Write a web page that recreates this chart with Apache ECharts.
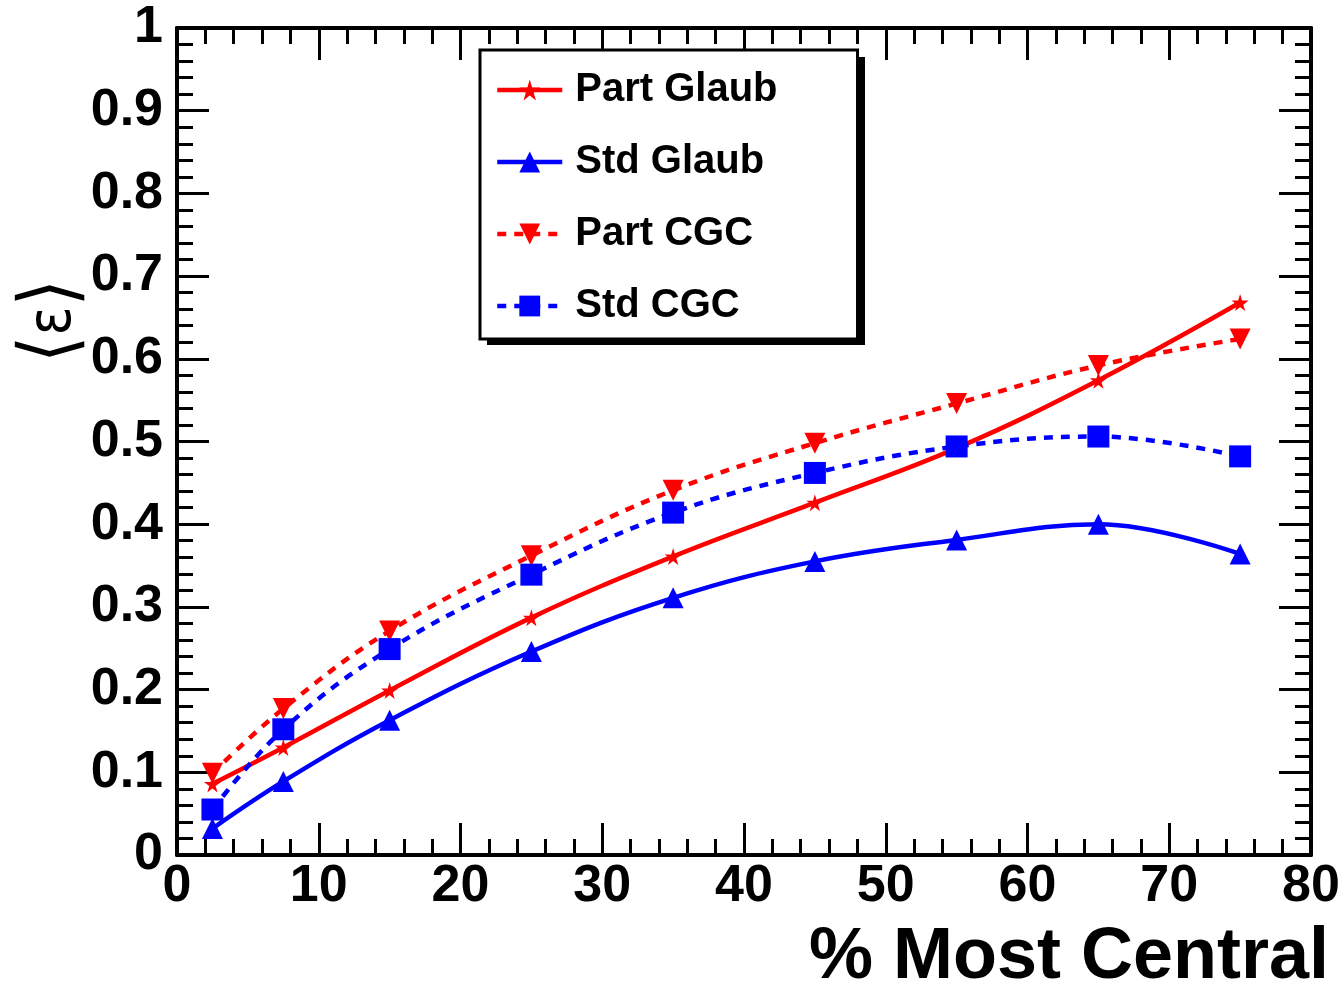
<!DOCTYPE html>
<html>
<head>
<meta charset="utf-8">
<script src="https://cdn.jsdelivr.net/npm/echarts@6/dist/echarts.min.js"></script>
<style>
    html, body { margin: 0; padding: 0; background: #fff; }
    #chart { width: 1343px; height: 994px; }
</style>
</head>
<body>
<div id="chart"></div>
<script>
// centrality bins (% most central)
let centrality = [2.5, 7.5, 15, 25, 35, 45, 55, 65, 75]

let partGlaub = [0.086, 0.130, 0.199, 0.287, 0.361, 0.426, 0.492, 0.574, 0.668]
let stdGlaub = [0.032, 0.089, 0.163, 0.246, 0.311, 0.355, 0.381, 0.400, 0.364]
let partCGC = [0.099, 0.177, 0.271, 0.362, 0.441, 0.498, 0.546, 0.592, 0.624]
let stdCGC = [0.055, 0.152, 0.249, 0.339, 0.414, 0.462, 0.494, 0.506, 0.482]

let seriesNames = ['Part Glaub', 'Std Glaub', 'Part CGC', 'Std CGC']

const starPath = 'path://M50,0 L61,35 L98,35 L68,57 L79,91 L50,70 L21,91 L32,57 L2,35 L39,35 Z'
const labelFont = 'Liberation Sans, Arial, Helvetica, sans-serif'

function pairs(values) {
    let out = []
    for (let i = 0; i < centrality.length; i++) {
        out.push([centrality[i], values[i]])
    }
    return out
}

function makeSeries(name, values, color, dotted, symbol, size, rotate) {
    return {
        name: name,
        type: 'line',
        smooth: 0.4,
        data: pairs(values),
        symbol: symbol,
        symbolSize: size,
        symbolRotate: rotate || 0,
        color: color,
        itemStyle: { color: color },
        lineStyle: {
            color: color,
            width: 4.5,
            type: dotted ? [9, 8] : 'solid'
        },
        z: 3
    }
}

const frameAxis = {
    axisLine: { show: true, onZero: false, lineStyle: { color: '#000', width: 4 } },
    axisTick: { show: true, inside: true, length: 32, lineStyle: { color: '#000', width: 3 } },
    minorTick: { show: true, splitNumber: 5, length: 16, lineStyle: { color: '#000', width: 3 } },
    splitLine: { show: false },
    minorSplitLine: { show: false }
}

let dom = document.getElementById('chart')
let myChart = echarts.init(dom, null, { renderer: 'canvas' })

let option = {
    backgroundColor: '#fff',
    animation: false,
    grid: { left: 177, right: 32, top: 28, bottom: 132, containLabel: false },
    legend: {
        orient: 'vertical',
        left: 480,
        top: 50,
        z: 10,
        data: seriesNames,
        itemWidth: 65,
        itemHeight: 26,
        itemGap: 32,
        padding: [20, 80, 13, 15],
        backgroundColor: '#fff',
        borderColor: '#000',
        borderWidth: 3,
        borderRadius: 0,
        lineStyle: { width: 4.5 },
        textStyle: {
            fontFamily: labelFont,
            fontWeight: 'bold',
            fontSize: 40,
            color: '#000',
            lineHeight: 40,
            padding: [0, 0, 0, 8]
        }
    },
    xAxis: [
        Object.assign({
            type: 'value',
            position: 'bottom',
            min: 0,
            max: 80,
            interval: 10,
            axisLabel: {
                fontFamily: labelFont,
                fontWeight: 'bold',
                fontSize: 52,
                color: '#000',
                margin: 6
            },
            name: '% Most Central',
            nameLocation: 'end',
            nameGap: 18,
            nameTextStyle: {
                fontFamily: labelFont,
                fontWeight: 'bold',
                fontSize: 72,
                color: '#000',
                align: 'right',
                verticalAlign: 'top',
                padding: [67, 0, 0, 0]
            }
        }, frameAxis),
        Object.assign({
            type: 'value',
            position: 'top',
            min: 0,
            max: 80,
            interval: 10,
            axisLabel: { show: false }
        }, frameAxis)
    ],
    yAxis: [
        Object.assign({
            type: 'value',
            position: 'left',
            min: 0,
            max: 1,
            interval: 0.1,
            axisLabel: {
                fontFamily: labelFont,
                fontWeight: 'bold',
                fontSize: 52,
                color: '#000',
                margin: 14
            }
        }, frameAxis),
        Object.assign({
            type: 'value',
            position: 'right',
            min: 0,
            max: 1,
            interval: 0.1,
            axisLabel: { show: false }
        }, frameAxis)
    ],
    graphic: [
        {
            // legend drop shadow
            type: 'rect',
            z: 1,
            shape: { x: 487, y: 57, width: 378, height: 288 },
            style: { fill: '#000' }
        },
        {
            type: 'text',
            x: 54,
            y: 321,
            rotation: Math.PI / 2,
            scaleX: 0.9,
            style: {
                text: '{b|⟨}{e|ε}{b|⟩}',
                fill: '#000',
                align: 'center',
                verticalAlign: 'middle',
                rich: {
                    b: { fontFamily: 'DejaVu Sans, sans-serif', fontSize: 78, fill: '#000' },
                    e: { fontFamily: 'DejaVu Sans, sans-serif', fontSize: 60, fill: '#000' }
                }
            }
        }
    ],
    series: [
        makeSeries('Part Glaub', partGlaub, '#ff0000', false, starPath, 17, 0),
        makeSeries('Std Glaub', stdGlaub, '#0000ff', false, 'triangle', 21, 0),
        makeSeries('Part CGC', partCGC, '#ff0000', true, 'triangle', 21, 180),
        makeSeries('Std CGC', stdCGC, '#0000ff', true, 'rect', 22, 0)
    ]
}

myChart.setOption(option)
window.addEventListener('resize', myChart.resize)
</script>
</body>
</html>
